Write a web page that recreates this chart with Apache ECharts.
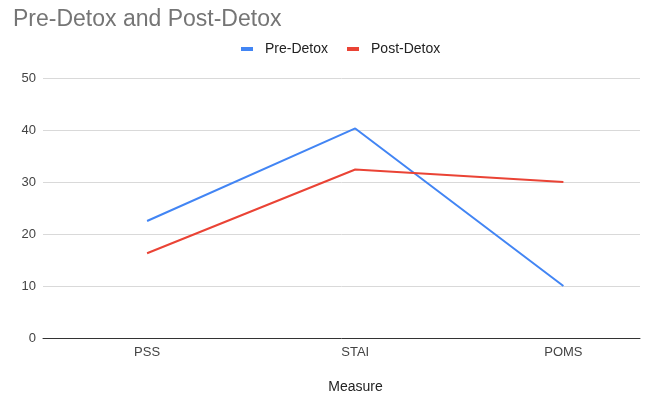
<!DOCTYPE html>
<html><head><meta charset="utf-8">
<script src="https://cdn.jsdelivr.net/npm/echarts@6/dist/echarts.min.js"></script>
<style>html,body{margin:0;padding:0;background:#fff}#c{width:655px;height:395px}</style>
</head><body><div id="c"></div>
<script>
const categories = ['PSS', 'STAI', 'POMS'];
const preDetox = [22.5, 40.3, 10];
const postDetox = [16.3, 32.4, 30];
const yTicks = [0, 10, 20, 30, 40, 50];

const chart = echarts.init(document.getElementById('c'));
const font = 'Liberation Sans, Arial, sans-serif';
chart.setOption({
  animation: false,
  textStyle: { fontFamily: font },
  title: { text: 'Pre-Detox and Post-Detox', left: 8, top: 3,
    textStyle: { fontSize: 23, fontWeight: 'normal', color: '#757575', fontFamily: font } },
  legend: { top: 37, left: 236, icon: 'rect', itemWidth: 12, itemHeight: 4, itemGap: 19,
    textStyle: { fontSize: 14, color: '#222', fontFamily: font, padding: [0, 0, 0, 7] } },
  grid: { left: 43, right: 15, top: 78, bottom: 57, outerBoundsMode: 'none', containLabel: false },
  xAxis: {
    type: 'value', min: -0.5, max: 2.368,
    name: 'Measure', nameLocation: 'middle', nameGap: 42,
    nameTextStyle: { fontSize: 14, color: '#222', fontFamily: font, padding: [0, 0, 0, 28] },
    axisLine: { show: true, lineStyle: { color: '#333', width: 1 } },
    axisTick: { show: false },
    splitLine: { show: false },
    axisLabel: { customValues: [0, 1, 2], formatter: v => categories[Math.round(v)] || '',
      fontSize: 13, color: '#444', margin: 8, fontFamily: font }
  },
  yAxis: {
    type: 'value', min: yTicks[0], max: yTicks[yTicks.length - 1], interval: 10,
    axisLine: { show: false }, axisTick: { show: false },
    splitLine: { lineStyle: { color: '#d9d9d9', width: 1 } },
    axisLabel: { fontSize: 13, color: '#444', margin: 7, fontFamily: font }
  },
  series: [
    { name: 'Pre-Detox', type: 'line', showSymbol: false, color: '#4285F4',
      lineStyle: { width: 2 }, data: preDetox.map((v, i) => [i, v]) },
    { name: 'Post-Detox', type: 'line', showSymbol: false, color: '#EA4335',
      lineStyle: { width: 2 }, data: postDetox.map((v, i) => [i, v]) }
  ]
});
</script></body></html>
